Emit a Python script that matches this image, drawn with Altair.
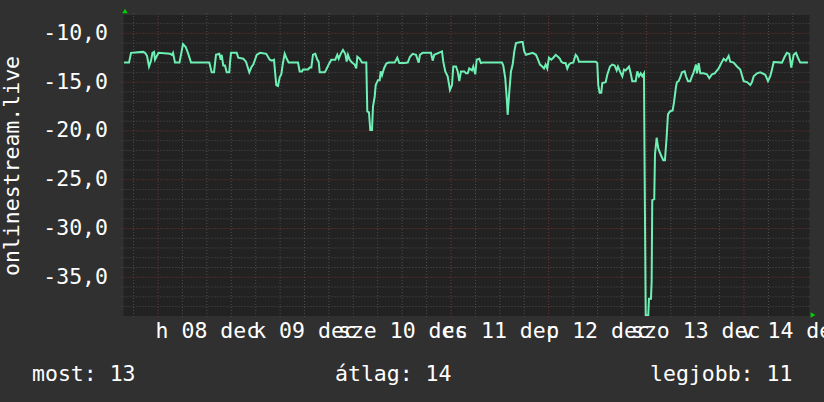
import altair as alt
import pandas as pd

# Series: hours since Mon 08 Dec 00:00, value of onlinestream.live
hours = [
    -8.35, -7.13, -6.63, -3.69, -3.19, -2.70, -2.21, -1.72, -1.35, -0.98,
    -0.74, -0.25, 0.12, 2.95, 3.44, 3.69, 4.18, 5.28, 6.14, 6.81,
    7.44, 8.11, 12.6, 13.19, 13.76, 14.25, 15.06, 15.41, 15.65, 16.04,
    16.46, 16.88, 17.52, 17.69, 17.94, 19.34, 19.73, 20.96, 21.62, 22.43,
    23.02, 23.42, 24.25, 25.06,
    26.6, 27.45, 28.0, 28.5, 28.82, 29.07, 29.48, 29.9, 30.29, 30.71,
    31.13, 31.52, 32.11, 34.4, 34.82, 35.38, 35.63, 36.86, 37.27, 37.67,
    38.08, 38.65, 39.14, 39.48, 39.73, 40.96, 41.35, 41.94, 42.58, 43.56,
    44.05, 44.4, 44.89, 45.45, 46.02, 46.36, 46.68, 47.1, 47.67, 48.33,
    48.72, 48.97, 49.56, 50.12, 51.18, 51.43, 51.84, 52.16, 52.58, 52.83,
    53.24, 53.49, 54.05, 54.47, 54.72, 55.04, 55.53, 56.1, 56.68, 58.16,
    58.8,
    59.3, 60.52, 61.36, 61.92, 62.58, 63.39, 64.06, 64.37, 65.04, 67.08,
    67.49, 67.89, 68.97, 69.78, 70.1, 70.59, 71.18, 71.74, 72.24, 72.56,
    73.22, 73.64, 74.03, 74.45, 75.26, 75.68, 76.1, 76.49, 77.15, 77.47,
    77.96, 78.31, 78.95, 79.36, 79.78, 84.52, 84.84, 85.33, 85.75, 85.92,
    86.32, 86.73, 87.15, 87.55, 87.96, 89.19, 89.61, 90.0, 90.42, 92.07,
    92.88,
    93.2, 93.86, 94.42, 94.84, 95.26, 95.65, 96.07, 96.63, 97.13, 97.72,
    98.28, 98.77, 99.09, 99.58, 100.17, 100.57, 100.98, 101.4, 102.04, 102.63,
    103.02, 103.44, 107.54, 107.94, 108.18, 108.52, 108.92, 109.17, 110.0, 110.4,
    111.06, 111.63, 112.22, 112.71, 113.03, 113.52, 114.09, 114.5, 114.92, 115.73,
    116.15, 116.54, 117.38, 117.77, 118.19, 118.6, 119.0, 119.42, 119.54, 119.84,
    120.47, 120.64, 121.13, 121.3, 121.45, 121.94, 122.12, 122.53, 122.93, 123.59,
    124.16, 124.57, 124.99, 125.31, 125.8, 126.46, 126.78, 127.28, 127.52, 127.94,
    128.34, 128.75, 129.42, 129.74, 130.23, 130.79, 131.21, 131.62, 132.19, 132.44,
    132.86, 133.25, 134.09, 134.9, 135.46, 136.12, 136.79, 137.77, 138.41, 139.0,
    139.56, 140.23, 140.62, 141.46, 142.27, 143.08, 143.91, 144.73, 145.54, 145.96,
    146.38, 147.19, 148.0, 149.23, 149.89, 150.45, 150.87, 151.29, 153.32, 153.99,
    154.55, 155.12, 155.61, 156.2, 156.77, 157.25, 157.82, 159.7,
]

values = [
    -13.0, -13.0, -12.0, -11.9, -12.0, -12.3, -13.4, -12.8, -12.0, -11.9,
    -12.7, -12.3, -12.0, -12.1, -12.2, -12.0, -13.0, -13.0, -11.1, -11.4,
    -12.1, -13.0, -13.0, -14.0, -14.0, -12.2, -12.1, -12.7, -12.2, -13.3,
    -13.3, -14.0, -14.0, -13.0, -12.0, -12.0, -12.5, -12.6, -12.9, -14.0,
    -13.4, -13.2, -12.2, -12.0,
    -12.1, -12.7, -12.8, -12.7, -14.2, -15.3, -15.4, -14.5, -14.2, -13.0,
    -12.1, -12.5, -13.0, -13.0, -13.9, -13.9, -13.7, -13.7, -13.5, -13.5,
    -12.2, -12.1, -12.7, -12.9, -14.0, -14.0, -13.7, -13.2, -12.7, -12.7,
    -12.2, -12.6, -12.1, -11.7, -12.1, -12.9, -12.2, -12.7, -13.0, -13.2,
    -13.6, -12.4, -12.6, -13.0, -13.0, -18.0, -18.1, -19.9, -19.9, -17.5,
    -16.5, -15.3, -14.8, -14.8, -13.9, -14.3, -13.6, -13.1, -13.0, -13.0,
    -12.5,
    -13.05, -13.05, -13.0, -12.4, -12.1, -12.2, -13.0, -12.2, -12.0, -12.0,
    -12.8, -12.2, -12.0, -11.85, -12.9, -13.9, -14.4, -15.8, -15.3, -13.4,
    -13.4, -13.9, -14.9, -13.9, -13.9, -14.1, -14.1, -13.6, -13.8, -13.4,
    -14.2, -12.7, -12.6, -13.05, -13.0, -13.0, -13.3, -14.6, -17.0, -18.35,
    -16.0, -13.9, -13.2, -11.85, -11.0, -10.9, -10.9, -11.85, -12.2, -12.0,
    -12.2,
    -12.5, -13.2, -13.4, -13.6, -13.2, -13.6, -12.5, -12.7, -12.5, -12.2,
    -12.4, -12.6, -12.9, -13.05, -13.05, -13.6, -13.2, -13.05, -13.0, -12.2,
    -12.4, -12.9, -12.9, -13.05, -15.3, -16.1, -16.1, -15.1, -15.0, -14.25,
    -13.4, -13.2, -13.3, -13.8, -13.4, -13.9, -14.4, -13.7, -13.8, -13.4,
    -14.1, -14.9, -14.9, -13.9, -14.4, -14.1, -14.4, -14.1, -22.0, -38.9,
    -38.9, -37.2, -37.2, -35.5, -27.1, -27.0, -22.4, -20.7, -21.8, -22.5,
    -23.0, -23.0, -20.6, -18.3, -18.0, -17.9, -17.1, -15.5, -15.0, -14.9,
    -14.5, -14.0, -13.9, -14.4, -14.9, -14.9, -14.4, -14.0, -13.2, -14.1,
    -13.05, -14.1, -14.1, -14.2, -14.6, -14.2, -14.1, -13.6, -13.05, -12.6,
    -12.8, -12.3, -12.9, -13.0, -13.4, -13.7, -14.9, -15.0, -15.3, -15.0,
    -14.4, -14.1, -14.0, -14.25, -14.9, -14.4, -13.7, -12.95, -13.0, -12.4,
    -12.0, -12.1, -13.5, -12.2, -12.0, -12.5, -13.0, -13.0,
]

# Day labels sit at noon of each day
day_labels = ["h 08 dec", "k 09 dec", "sze 10 dec", "cs 11 dec",
              "p 12 dec", "szo 13 dec", "v 14 dec"]
label_hours = [12, 36, 60, 84, 108, 132, 156]

y_ticks = [-35, -30, -25, -20, -15, -10]

# Grid: minor every 6 h / 1 unit, major at midnight / every 5 units
major_x = [0, 24, 48, 72, 96, 120, 144]
minor_x = [h for h in range(-6, 160, 6) if h % 24 != 0]
major_y = y_ticks
minor_y = [v for v in range(-38, -8) if v % 5 != 0]

x_domain = [-8.48, 160.09]
y_domain = [-38.97, -8.12]

# Summary line below the plot
summary_names = ["most", "átlag", "legjobb"]
summary_values = [13, 14, 11]

W, H = 686, 301
FONT = "DejaVu Sans Mono"
FS = 21.5
LINE_COLOR = "#6ef0b4"
MINOR_COLOR = "#4e4e4e"
MAJOR_COLOR = "#7a3434"

xs = alt.Scale(domain=x_domain, nice=False, zero=False)
ys = alt.Scale(domain=y_domain, nice=False, zero=False)

series = pd.DataFrame({"t": hours, "v": values})

label_expr = "[" + ",".join("'%s'" % s for s in day_labels) + "][floor(datum.value / 24)]"
y_label_expr = ("(datum.value < 0 ? '-' : '') + "
                "replace(format(abs(datum.value), '.1f'), '.', ',')")

x_axis = alt.Axis(
    values=label_hours, labelExpr=label_expr, title=None,
    domain=False, ticks=False, grid=False,
    labelOverlap=False, labelBound=False, labelFlush=False,
    labelFont=FONT, labelFontSize=FS, labelColor="#ffffff",
    labelBaseline="middle", labelPadding=15,
)
y_axis = alt.Axis(
    values=y_ticks, labelExpr=y_label_expr, title="onlinestream.live",
    domain=False, ticks=False, grid=False,
    labelOverlap=False, labelBound=False, labelFlush=False,
    labelFont=FONT, labelFontSize=FS, labelColor="#ffffff",
    labelPadding=16, labelBaseline="middle",
    titleFont=FONT, titleFontSize=FS, titleColor="#ffffff",
    titleFontWeight="normal", titleAngle=270,
    titleAlign="center", titleBaseline="middle",
    titleX=-111.5, titleY=H / 2,
)

line = alt.Chart(series).mark_line(
    color=LINE_COLOR, strokeWidth=2, clip=True
).encode(
    x=alt.X("t:Q", scale=xs, axis=x_axis),
    y=alt.Y("v:Q", scale=ys, axis=y_axis),
)

vminor = alt.Chart(pd.DataFrame({"t": minor_x})).mark_rule(
    color=MINOR_COLOR, strokeDash=[1, 2], strokeWidth=1
).encode(x=alt.X("t:Q", scale=xs, axis=x_axis), y=alt.value(-2), y2=alt.value(H + 2))

hminor = alt.Chart(pd.DataFrame({"v": minor_y})).mark_rule(
    color=MINOR_COLOR, strokeDash=[1, 2], strokeWidth=1
).encode(y=alt.Y("v:Q", scale=ys, axis=y_axis), x=alt.value(-2), x2=alt.value(W + 2))

vmajor = alt.Chart(pd.DataFrame({"t": major_x})).mark_rule(
    color=MAJOR_COLOR, strokeDash=[1, 2], strokeWidth=1
).encode(x=alt.X("t:Q", scale=xs, axis=x_axis), y=alt.value(-2), y2=alt.value(H + 2))

hmajor = alt.Chart(pd.DataFrame({"v": major_y})).mark_rule(
    color=MAJOR_COLOR, strokeDash=[1, 2], strokeWidth=1
).encode(y=alt.Y("v:Q", scale=ys, axis=y_axis), x=alt.value(-2), x2=alt.value(W + 2))

# Arrow heads at the ends of the axes
up_arrow = alt.Chart(pd.DataFrame({"t": [x_domain[0]], "v": [y_domain[1]]})).mark_point(
    shape="triangle-up", filled=True, color="#00d000", size=30, opacity=1,
    xOffset=1.5, yOffset=-4,
).encode(x=alt.X("t:Q", scale=xs, axis=x_axis), y=alt.Y("v:Q", scale=ys, axis=y_axis))

right_arrow = alt.Chart(pd.DataFrame({"t": [x_domain[1]], "v": [y_domain[0]]})).mark_point(
    shape="triangle-right", filled=True, color="#00d000", size=30, opacity=1,
    xOffset=3.5, yOffset=-1,
).encode(x=alt.X("t:Q", scale=xs, axis=x_axis), y=alt.Y("v:Q", scale=ys, axis=y_axis))

summary_text = [f"{n}: {v}" for n, v in zip(summary_names, summary_values)]
summary_px = [-91.5, 211.5, 526.5]
summary_charts = [
    alt.Chart(pd.DataFrame({"text": [s]})).mark_text(
        font=FONT, fontSize=FS, color="#ffffff", align="left", baseline="middle"
    ).encode(text="text:N", x=alt.value(px), y=alt.value(360))
    for s, px in zip(summary_text, summary_px)
]

chart = alt.layer(
    vminor, hminor, vmajor, hmajor, line, up_arrow, right_arrow, *summary_charts
).properties(
    width=W, height=H,
    padding={"left": 123.5, "top": 15, "right": 14.5, "bottom": 86},
    autosize=alt.AutoSizeParams(type="none"),
    background="#303030",
).configure_view(
    fill="#222222", stroke=None,
)

chart.save("out.html", embed_options={"renderer": "svg", "actions": False})
